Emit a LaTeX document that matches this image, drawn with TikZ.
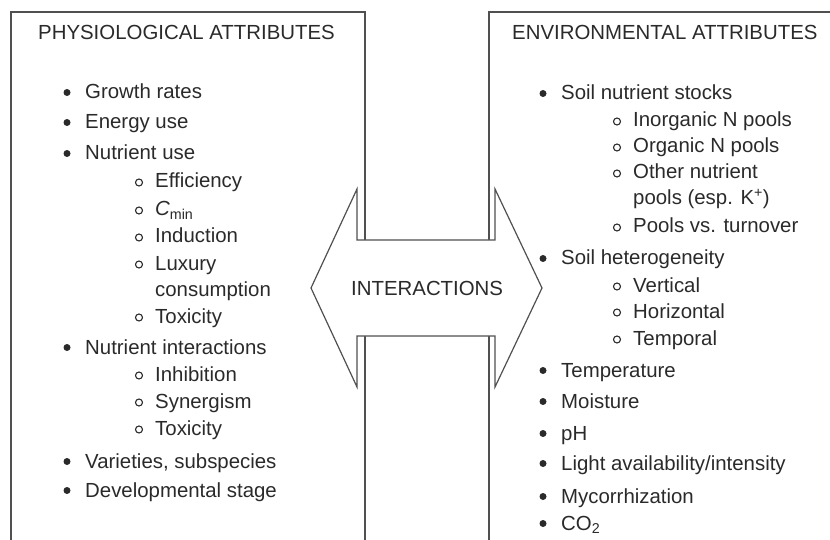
\documentclass[tikz,border=0pt]{standalone}
\usepackage{fontspec}
\setmainfont{Liberation Sans}
\definecolor{ink}{HTML}{2A2A2A}
\definecolor{edge}{HTML}{505050}
\newcommand\mainbullet[4]{%
  \node[bdot] (#1d) at (#2,#3-6.5) {};
  \node[txt] (#1) at (#2+18,#3) {#4};}
\newcommand\subbullet[4]{%
  \node[cdot] (#1d) at (#2,#3-5.5) {};
  \node[txt] (#1) at (#2+16,#3) {#4};}
\begin{document}
\begin{tikzpicture}[x=1pt,y=-1pt,
  txt/.style={anchor=base west,inner sep=0pt,text=ink,font=\fontsize{20.4}{24}\selectfont},
  bdot/.style={circle,fill=ink,inner sep=0pt,minimum size=7pt},
  cdot/.style={circle,draw=ink,line width=1.1pt,inner sep=0pt,minimum size=7pt},
  boxline/.style={draw=edge,line width=1.8pt},
  arrowshape/.style={draw=edge,line width=1.2pt,fill=white,line join=miter}]
\useasboundingbox (0,0) rectangle (830,540);
\clip (0,0) rectangle (830,540);
% boxes
\coordinate (lb1) at (11,560);
\coordinate (lb2) at (11,12);
\coordinate (lb3) at (365,12);
\coordinate (lb4) at (365,560);
\draw[boxline] (lb1) -- (lb2) -- (lb3) -- (lb4);
\coordinate (rb1) at (489,560);
\coordinate (rb2) at (489,12);
\coordinate (rb3) at (850,12);
\draw[boxline] (rb1) -- (rb2) -- (rb3);
% double arrow
\draw[arrowshape] (311,288) -- (357,189) -- (357,240) -- (495,240) -- (495,189)
  -- (542,288) -- (495,387) -- (495,336) -- (357,336) -- (357,387) -- cycle;
\node[txt] (inter) at (351,295) {INTERACTIONS};
% left box
\node[txt] (lhead) at (38,40) {PHYSIOLOGICAL ATTRIBUTES};
\mainbullet{l1}{67}{99}{Growth rates}
\mainbullet{l2}{67}{129}{Energy use}
\mainbullet{l3}{67}{160}{Nutrient use}
\subbullet{l3a}{139}{188}{Efficiency}
\subbullet{l3b}{139}{216}{{\itshape C}\textsubscript{min}}
\subbullet{l3c}{139}{243}{Induction}
\subbullet{l3d}{139}{270}{Luxury}
\node[txt] (l3d2) at (155,296) {consumption};
\subbullet{l3e}{139}{323}{Toxicity}
\mainbullet{l4}{67}{354}{Nutrient interactions}
\subbullet{l4a}{139}{381}{Inhibition}
\subbullet{l4b}{139}{408}{Synergism}
\subbullet{l4c}{139}{435}{Toxicity}
\mainbullet{l5}{67}{468}{Varieties, subspecies}
\mainbullet{l6}{67}{497}{Developmental stage}
% right box
\node[txt] (rhead) at (512,40) {ENVIRONMENTAL ATTRIBUTES};
\mainbullet{r1}{543}{100}{Soil nutrient stocks}
\subbullet{r1a}{617}{127}{Inorganic N pools}
\subbullet{r1b}{617}{153}{Organic N pools}
\subbullet{r1c}{617}{179}{Other nutrient}
\node[txt] (r1c2) at (633,205) {pools (esp. K\textsuperscript{+})};
\subbullet{r1d}{617}{233}{Pools vs. turnover}
\mainbullet{r2}{543}{265}{Soil heterogeneity}
\subbullet{r2a}{617}{292}{Vertical}
\subbullet{r2b}{617}{318}{Horizontal}
\subbullet{r2c}{617}{345}{Temporal}
\mainbullet{r3}{543}{377}{Temperature}
\mainbullet{r4}{543}{408}{Moisture}
\mainbullet{r5}{543}{440}{pH}
\mainbullet{r6}{543}{470}{Light availability/intensity}
\mainbullet{r7}{543}{503}{Mycorrhization}
\mainbullet{r8}{543}{530}{CO\textsubscript{2}}
\end{tikzpicture}
\end{document}
